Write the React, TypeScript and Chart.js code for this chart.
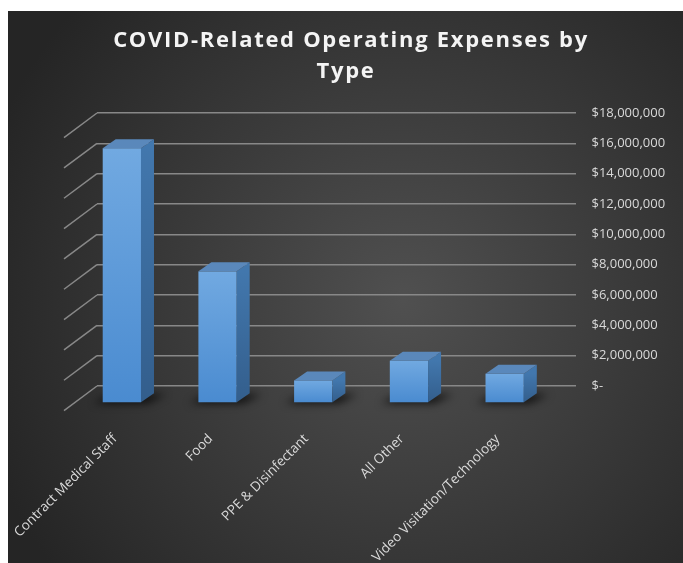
import React, { useEffect, useRef } from "react";
import { Chart, registerables } from "chart.js";

Chart.register(...registerables);

// ---- data ----
const TITLE_LINES = ["COVID-Related Operating Expenses by", "Type"];
const CATEGORIES = [
  "Contract Medical Staff",
  "Food",
  "PPE & Disinfectant",
  "All Other",
  "Video Visitation/Technology",
];
const EXPENSES = [16800000, 8680000, 1490000, 2790000, 1930000];
const Y_MIN = 0;
const Y_MAX = 18000000;
const Y_STEP = 2000000;

// ---- styling ----
const GRID_COLOR = "#888888";
const TEXT_COLOR = "#d9d9d9";
const FONT = "'Open Sans', 'Noto Sans', sans-serif";
const FRONT_SHIFT = { dx: -23, dy: 17 }; // wall plane -> bar front face
const BAR_DEPTH = { dx: 13, dy: -9 }; // bar front -> bar back
const FLOOR_DEPTH = { dx: -33, dy: 24.6 }; // wall -> floor front edge

function formatTick(v: number) {
  if (v === 0) return "$-";
  return "$" + Number(v).toLocaleString("en-US");
}

const threeDPlugin = {
  id: "threeD",
  beforeDraw(chart: any) {
    const { ctx, width, height } = chart;
    ctx.save();
    const g = ctx.createRadialGradient(395, 290, 0, 395, 290, 440);
    g.addColorStop(0, "#505050");
    g.addColorStop(1, "#252525");
    ctx.fillStyle = g;
    ctx.fillRect(0, 0, width, height);
    ctx.fillStyle = "#f4f4f4";
    ctx.font = `bold 22px ${FONT}`;
    ctx.textAlign = "center";
    ctx.textBaseline = "alphabetic";
    (ctx as any).letterSpacing = "1.7px";
    ctx.fillText(TITLE_LINES[0], 343, 36);
    ctx.fillText(TITLE_LINES[1], 338, 67);
    (ctx as any).letterSpacing = "0px";
    ctx.restore();
  },
  beforeDatasetsDraw(chart: any) {
    const { ctx, chartArea, scales } = chart;
    const ys = scales.y;
    ctx.save();
    ctx.strokeStyle = GRID_COLOR;
    ctx.lineWidth = 1.5;
    ys.ticks.forEach((t: any) => {
      const py = ys.getPixelForValue(t.value);
      ctx.beginPath();
      ctx.moveTo(chartArea.left, py);
      ctx.lineTo(chartArea.left + FLOOR_DEPTH.dx, py + FLOOR_DEPTH.dy);
      ctx.stroke();
    });
    ctx.restore();
  },
  afterDatasetsDraw(chart: any) {
    const { ctx } = chart;
    const meta = chart.getDatasetMeta(0);
    meta.data.forEach((bar: any) => {
      const { x, y, base, width } = bar.getProps(["x", "y", "base", "width"], true);
      const L = x - width / 2 + FRONT_SHIFT.dx;
      const R = x + width / 2 + FRONT_SHIFT.dx;
      const T = y + FRONT_SHIFT.dy;
      const B = base + FRONT_SHIFT.dy;
      const dx = BAR_DEPTH.dx;
      const dy = BAR_DEPTH.dy;

      // shadow on floor
      ctx.save();
      ctx.filter = "blur(4px)";
      ctx.fillStyle = "rgba(0,0,0,0.75)";
      ctx.beginPath();
      ctx.moveTo(L - 9, B + 1);
      ctx.lineTo(R + 6, B + 1);
      ctx.lineTo(R + dx + 12, B + dy + 1);
      ctx.lineTo(L + dx - 4, B + dy + 1);
      ctx.closePath();
      ctx.fill();
      ctx.restore();

      ctx.save();
      // front face
      const gf = ctx.createLinearGradient(0, T, 0, B);
      gf.addColorStop(0, "#71a9e1");
      gf.addColorStop(1, "#4a8bd0");
      ctx.fillStyle = gf;
      ctx.fillRect(L, T, R - L, B - T);
      // side face
      const gs = ctx.createLinearGradient(0, T, 0, B);
      gs.addColorStop(0, "#4277ad");
      gs.addColorStop(1, "#335e8c");
      ctx.fillStyle = gs;
      ctx.beginPath();
      ctx.moveTo(R, T);
      ctx.lineTo(R + dx, T + dy);
      ctx.lineTo(R + dx, B + dy);
      ctx.lineTo(R, B);
      ctx.closePath();
      ctx.fill();
      // top face
      ctx.fillStyle = "#5a88bb";
      ctx.beginPath();
      ctx.moveTo(L, T);
      ctx.lineTo(R, T);
      ctx.lineTo(R + dx, T + dy);
      ctx.lineTo(L + dx, T + dy);
      ctx.closePath();
      ctx.fill();
      ctx.restore();
    });
  },
};

export default function App() {
  const ref = useRef<HTMLCanvasElement>(null);
  useEffect(() => {
    if (!ref.current) return;
    const chart = new Chart(ref.current, {
      type: "bar",
      data: {
        labels: CATEGORIES,
        datasets: [
          {
            label: "Expenses",
            data: EXPENSES,
            backgroundColor: "rgba(0,0,0,0)",
            borderWidth: 0,
            barPercentage: 0.4,
            categoryPercentage: 1,
          },
        ],
      },
      options: {
        responsive: false,
        animation: false,
        layout: { padding: { left: 89, top: 102, right: 0, bottom: 0 } },
        plugins: {
          legend: { display: false },
          tooltip: { enabled: false },
          title: { display: false },
        },
        scales: {
          x: {
            grid: { display: false, drawTicks: false },
            border: { display: false },
            ticks: {
              color: TEXT_COLOR,
              font: { family: FONT, size: 13.5 },
              minRotation: 45,
              maxRotation: 45,
              autoSkip: false,
              labelOffset: -30,
              padding: 45,
            },
            afterFit(scale: any) {
              scale.height = 177;
              scale.paddingLeft = 0;
              scale.paddingRight = 0;
            },
          },
          y: {
            position: "right",
            min: Y_MIN,
            max: Y_MAX,
            grid: { color: GRID_COLOR, lineWidth: 1.5, drawTicks: false },
            border: { display: false },
            ticks: {
              stepSize: Y_STEP,
              color: TEXT_COLOR,
              font: { family: FONT, size: 13 },
              padding: 16,
              callback: (v: any) => formatTick(Number(v)),
            },
            afterFit(scale: any) {
              scale.width = 107.5;
              scale.paddingTop = 0;
              scale.paddingBottom = 0;
            },
          },
        },
      },
      plugins: [threeDPlugin],
    } as any);
    return () => chart.destroy();
  }, []);
  return (
    <div style={{ position: "absolute", left: 8, top: 11, width: 675, height: 552 }}>
      <canvas ref={ref} width={675} height={552} style={{ display: "block" }} />
    </div>
  );
}
